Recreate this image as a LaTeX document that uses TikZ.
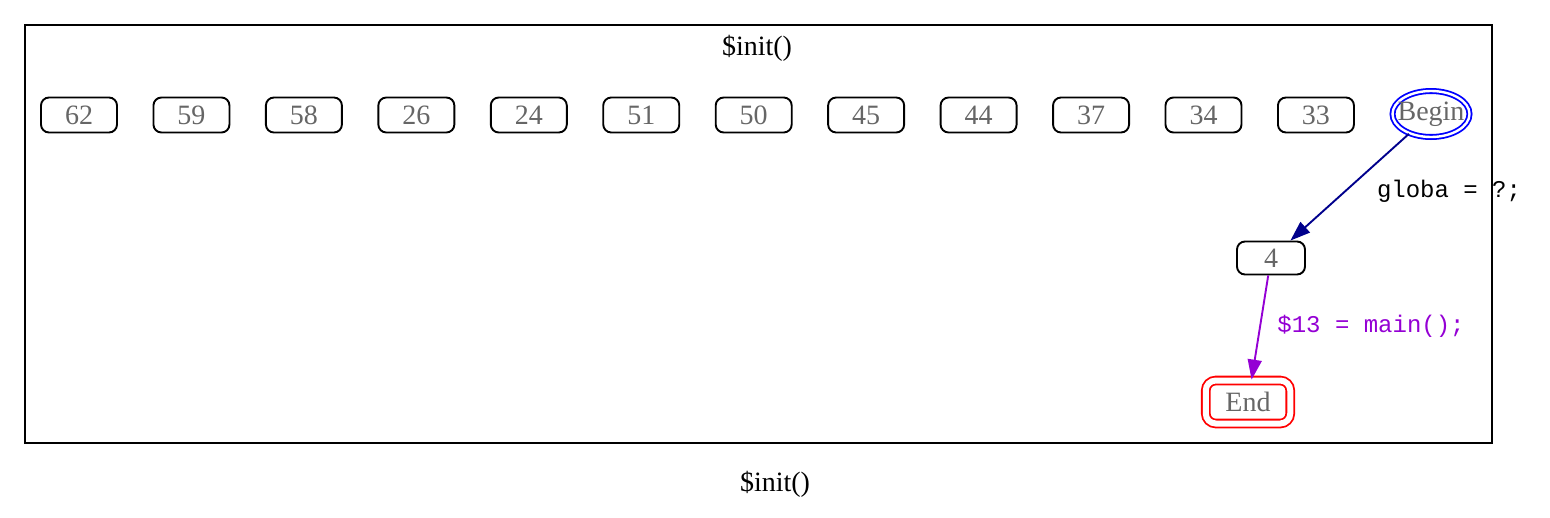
\documentclass[tikz,border=0pt]{standalone}
\usepackage{fontspec}
\setmainfont{Liberation Serif}
\setmonofont{Liberation Mono}
\usetikzlibrary{shapes.geometric, arrows.meta}

\definecolor{navyedge}{rgb}{0,0,0.55}
\definecolor{violetedge}{rgb}{0.58,0,0.83}

\tikzset{
	blk/.style = {draw = black, line width = 1.9pt, rounded corners = 8pt, minimum width = 76pt, minimum height = 35pt, inner sep = 0pt, text = black!60, font = \fontsize{28}{30}\selectfont},
	edgelbl/.style = {font = \ttfamily\fontsize{24}{26}\selectfont},
	flow/.style = {line width = 1.9pt, -{Triangle[length = 20pt, width = 14pt]}}
}

\begin{document}
\begin{tikzpicture}[x = 1pt, y = -1pt]
				\useasboundingbox (0,0) rectangle (1550,517);
				\draw[line width = 1.9pt] (25,25) rectangle (1492,443);
				\node[font = \fontsize{28}{30}\selectfont] (title) at (757,48) {\$init()};
				\node[font = \fontsize{28}{30}\selectfont] (caption) at (775,484) {\$init()};
				\foreach \lab [count = \i from 0] in {62,59,58,26,24,51,50,45,44,37,34,33}
					\node[blk] (n\lab) at ({79 + 112.45*\i},115) {\lab};
				\node[ellipse, draw = blue, line width = 1.8pt, double, double distance = 2.4pt, minimum width = 77pt, minimum height = 46pt, inner sep = 0pt] (begin) at (1431,114) {};
				\node[text = black!60, font = \fontsize{28}{30}\selectfont] (beginlbl) at (begin) {Begin};
				\node[blk, minimum width = 68pt, minimum height = 33pt] (n4) at (1271,258) {4};
				\node[blk, draw = red, rounded corners = 10pt, double, double distance = 6pt, line width = 1.8pt, minimum width = 84.5pt, minimum height = 43pt] (end) at (1248,402) {End};
				\draw[flow, draw = navyedge, fill = navyedge] (begin) -- (n4);
				\node[edgelbl] (l1) at (1449,191) {globa = ?;};
				\draw[flow, draw = violetedge, fill = violetedge] (n4) -- (end);
				\node[edgelbl, text = violetedge] (l2) at (1371,326) {\$13 = main();};
			\end{tikzpicture}
\end{document}
